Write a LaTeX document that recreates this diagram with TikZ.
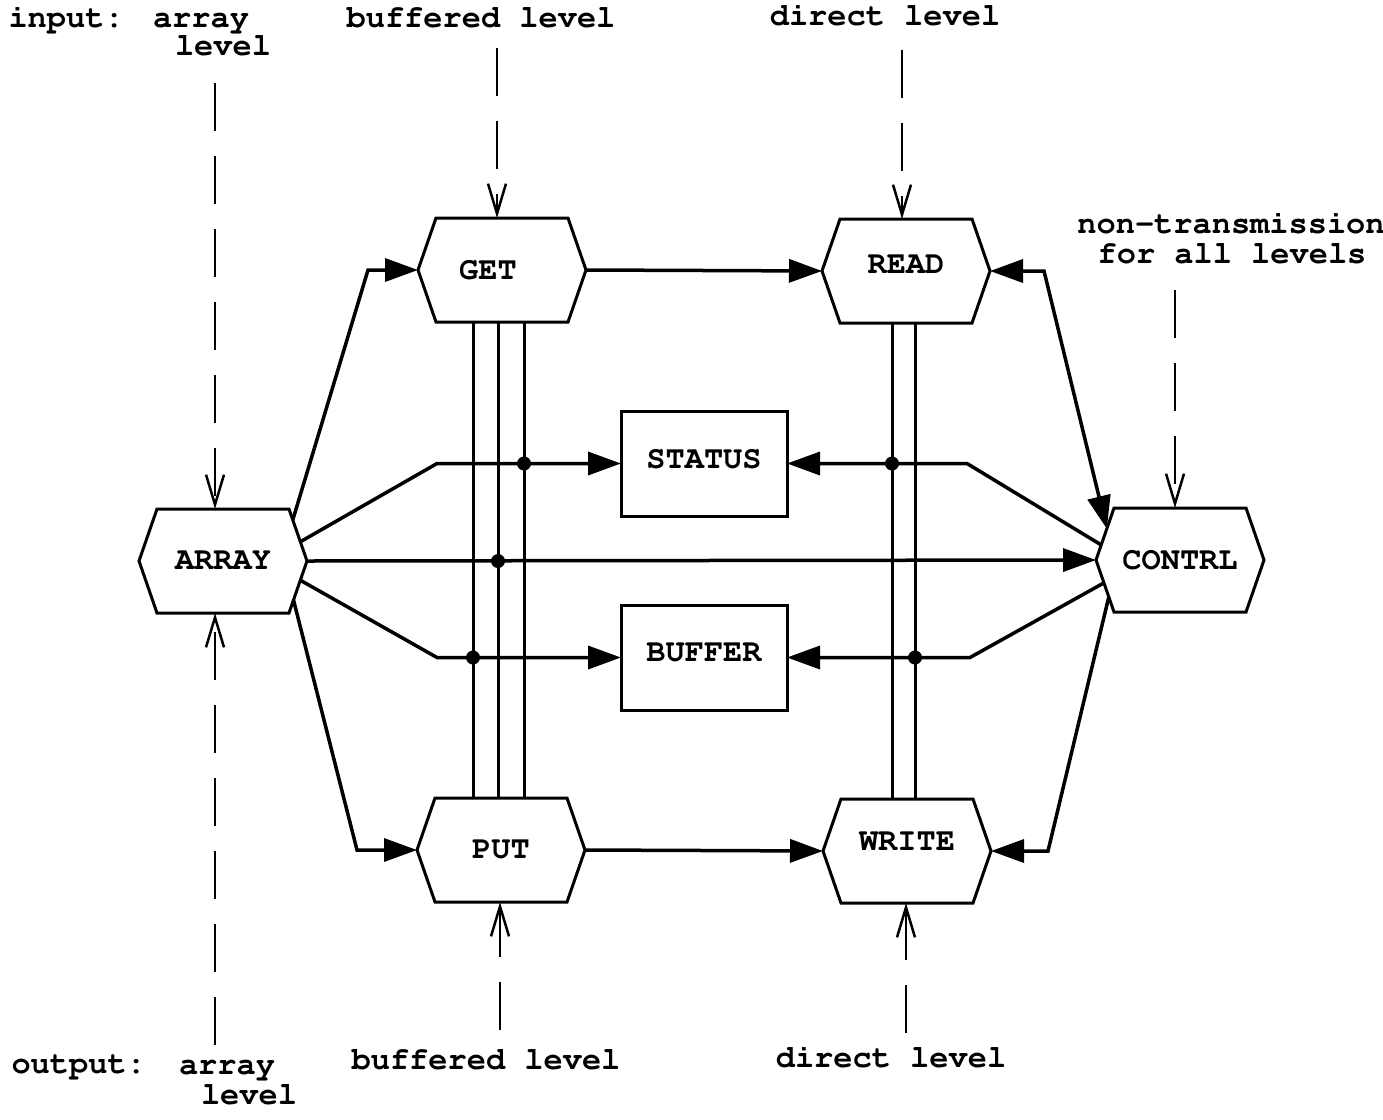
\documentclass[tikz,border=0pt]{standalone}
\usepackage[T1]{fontenc}
\usepackage{courier}
\usetikzlibrary{arrows.meta,calc}

\begin{document}
\begin{tikzpicture}[x=1pt,y=-1pt,
  every node/.style={font=\fontsize{32}{30}\ttfamily\bfseries},
  hexbox/.style={minimum width=168pt,minimum height=104pt,inner sep=0pt,outer sep=0pt},
  regbox/.style={draw,line width=3pt,minimum width=166pt,minimum height=105pt,inner sep=0pt,outer sep=0pt},
  hexline/.style={line width=3pt,line join=miter},
  wire/.style={line width=3.5pt},
  bus/.style={line width=3pt},
  feed/.style={line width=2.5pt,dash pattern=on 48pt off 25pt,-{Straight Barb[length=30pt,width=18pt]}},
  tip/.style={-{Triangle[length=33pt,width=23pt]}},
  bothtips/.style={{Triangle[length=33pt,width=23pt]}-{Triangle[length=33pt,width=23pt]}},
  junction/.style={circle,fill,inner sep=0pt,minimum size=14pt}
]
\fill[white] (0,0) rectangle (1383,1119);
\useasboundingbox (0,0) rectangle (1383,1119);

% modules
\node[hexbox] (get)   at (502,270) {\hspace*{-28pt}GET};
\node[hexbox] (read)  at (906,271) {\raisebox{12pt}{READ}};
\node[hexbox] (put)   at (501,850) {PUT};
\node[hexbox] (write) at (907,851) {\raisebox{18pt}{WRITE}};
\node[hexbox] (arr)   at (223,561) {ARRAY};
\node[hexbox] (ctl)   at (1180,560) {CONTRL};
\node[regbox] (status) at (704,463.5) {\raisebox{10pt}{STATUS}};
\node[regbox] (buffer) at (704,657.5) {\raisebox{9pt}{BUFFER}};

% hexagonal outlines
\foreach \n in {get,read,put,write,arr,ctl}
  \draw[hexline] (\n.west) -- ([xshift=18pt]\n.north west) -- ([xshift=-18pt]\n.north east)
    -- (\n.east) -- ([xshift=-18pt]\n.south east) -- ([xshift=18pt]\n.south west) -- cycle;

% corners used to attach slanted connectors
\coordinate (arrNE) at ([xshift=-18pt]arr.north east);
\coordinate (arrSE) at ([xshift=-18pt]arr.south east);
\coordinate (ctlNW) at ([xshift=18pt]ctl.north west);
\coordinate (ctlSW) at ([xshift=18pt]ctl.south west);

% buses between GET/PUT and READ/WRITE
\foreach \dx in {-29,-4,22}
  \draw[bus] ([xshift=\dx pt]get.south) -- ([xshift=\dx pt]get.south |- put.north);
\foreach \dx in {-14,9}
  \draw[bus] ([xshift=\dx pt]read.south) -- ([xshift=\dx pt]read.south |- write.north);

% connectors
\draw[wire,tip] ($(arr.east)!0.79!(arrNE)$) -- ([xshift=-50pt]get.west) -- (get.west);
\draw[wire,tip] ($(arr.east)!0.75!(arrSE)$) -- ([xshift=-60pt]put.west) -- (put.west);
\draw[wire,tip] (get.east) -- (read.west);
\draw[wire,tip] (put.east) -- (write.west);
\draw[wire,bothtips] (read.east) -- ([xshift=54pt]read.east) -- ($(ctl.west)!0.6!(ctlNW)$);
\draw[wire,tip] ($(ctl.west)!0.71!(ctlSW)$) -- ([xshift=57pt]write.east) -- (write.east);
\draw[wire,tip] (arr.east) -- (ctl.west);
\draw[wire,tip] ($(arr.east)!0.37!(arrNE)$) -- ([xshift=-184pt]status.west) -- (status.west);
\draw[wire,tip] ($(ctl.west)!0.29!(ctlNW)$) -- ([xshift=180pt]status.east) -- (status.east);
\draw[wire,tip] ($(arr.east)!0.37!(arrSE)$) -- ([xshift=-184pt]buffer.west) -- (buffer.west);
\draw[wire,tip] ($(ctl.west)!0.44!(ctlSW)$) -- ([xshift=183pt]buffer.east) -- (buffer.east);

% junction dots
\node[junction] (j1) at ([xshift=22pt]get.south |- status.west) {};
\node[junction] (j2) at ([xshift=-4pt]get.south |- arr.east) {};
\node[junction] (j3) at ([xshift=-29pt]get.south |- buffer.west) {};
\node[junction] (j4) at ([xshift=-14pt]read.south |- status.east) {};
\node[junction] (j5) at ([xshift=9pt]read.south |- buffer.east) {};

% level feeds
\coordinate (inArr)   at (215,83);
\coordinate (outArr)  at (215,1045);
\coordinate (inGet)   at (497,48);
\coordinate (inPut)   at (500,1030);
\coordinate (inRead)  at (902,50);
\coordinate (inWrite) at (906,1033);
\coordinate (inCtl)   at (1175,290);
\draw[feed] (inArr) -- (inArr |- arr.north);
\draw[feed] (outArr) -- (outArr |- arr.south);
\draw[feed] (inGet) -- (inGet |- get.north);
\draw[feed] (inPut) -- (inPut |- put.south);
\draw[feed] (inRead) -- (inRead |- read.north);
\draw[feed] (inWrite) -- (inWrite |- write.south);
\draw[feed] (inCtl) -- (inCtl |- ctl.north);

% labels
\node[anchor=base west] (tIn)  at (5,27) {input:};
\node[anchor=base] (tInA1) at (201,27) {array};
\node[anchor=base] (tInA2) at (223,55) {level};
\node[anchor=base] (tInB)  at (481,27) {buffered level};
\node[anchor=base] (tInD)  at (885,25) {direct level};
\node[anchor=base] (tNt1)  at (1231,233) {non-transmission};
\node[anchor=base] (tNt2)  at (1232,263) {for all levels};
\node[anchor=base west] (tOut) at (8,1073) {output:};
\node[anchor=base] (tOutA1) at (227,1074) {array};
\node[anchor=base] (tOutA2) at (249,1104) {level};
\node[anchor=base] (tOutB)  at (486,1069) {buffered level};
\node[anchor=base] (tOutD)  at (891,1067) {direct level};
\end{tikzpicture}
\end{document}
